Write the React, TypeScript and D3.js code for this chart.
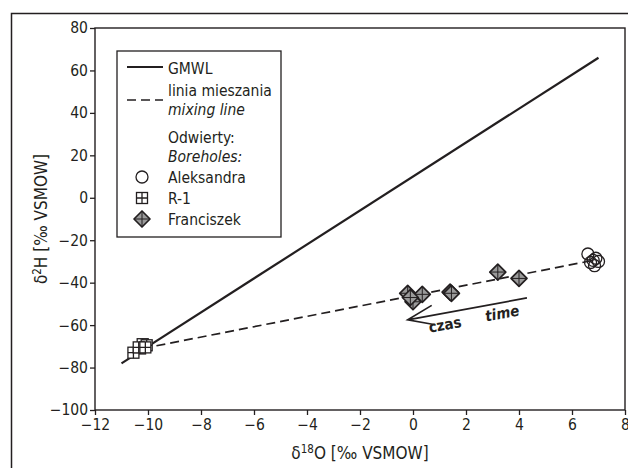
import React, { useEffect, useRef } from 'react';
import * as d3 from 'd3';

// tick values
const xTicks = [-12, -10, -8, -6, -4, -2, 0, 2, 4, 6, 8];
const yTicks = [80, 60, 40, 20, 0, -20, -40, -60, -80, -100];

// boreholes: [d18O, d2H]
const aleksandra: [number, number][] = [
  [6.6, -26.5], [6.8, -29.5], [7.0, -30], [6.85, -32], [6.7, -30.5], [6.9, -28.5],
];
const r1: [number, number][] = [
  [-10.2, -69], [-10.05, -69.5], [-10.3, -71], [-10.55, -73], [-10.35, -70.5], [-10.1, -70.5],
];
const franciszek: [number, number][] = [
  [-0.2, -45], [0.0, -49], [0.35, -45.5], [-0.1, -47], [1.4, -44.5], [1.45, -45], [3.2, -35], [4.0, -38],
];

// GMWL: d2H = 8 * d18O + 10
const gmwlRange = [-11, 7];
// mixing line end points
const mixingLine: [number, number][] = [[-10.2, -71], [6.8, -29.5]];
// time arrow (tail -> tip)
const timeArrow: [number, number][] = [[4.3, -47.2], [-0.2, -57.5]];

const FONT = '"Liberation Sans Narrow", "DejaVu Sans Condensed", "Liberation Sans", sans-serif';
const INK = '#231f20';

const App = () => {
  const svgRef = useRef<SVGSVGElement>(null);

  useEffect(() => {
    const svg = d3.select(svgRef.current);
    svg.selectAll('*').remove();

    const margin = { top: 28, right: 3, bottom: 58, left: 95 };
    const W = 628, H = 468;

    const x = d3.scaleLinear().domain([-12, 8]).range([margin.left, W - margin.right]);
    const y = d3.scaleLinear().domain([-100, 80]).range([H - margin.bottom, margin.top]);

    // outer frame
    svg.append('rect')
      .attr('x', 11.5).attr('y', 13.5).attr('width', 640).attr('height', 480)
      .attr('fill', 'none').attr('stroke', INK).attr('stroke-width', 1.5);

    // plot box
    svg.append('rect')
      .attr('x', x(-12)).attr('y', y(80))
      .attr('width', x(8) - x(-12)).attr('height', y(-100) - y(80))
      .attr('fill', 'none').attr('stroke', INK).attr('stroke-width', 1.4);

    const fmt = (d: any) => d3.format('')(d as number).replace('-', '\u2212');
    const xAxis = svg.append('g')
      .attr('transform', `translate(0,${y(-100)})`)
      .call(d3.axisBottom(x).tickValues(xTicks).tickSize(5).tickPadding(4).tickFormat(fmt));
    const yAxis = svg.append('g')
      .attr('transform', `translate(${x(-12)},0)`)
      .call(d3.axisLeft(y).tickValues(yTicks).tickSize(5).tickPadding(2).tickFormat(fmt));

    [xAxis, yAxis].forEach(g => {
      g.select('.domain').remove();
      g.selectAll('line').attr('stroke', INK).attr('stroke-width', 1.3);
      g.selectAll('text').attr('fill', INK).style('font-family', FONT).style('font-size', '15.5px');
    });

    // axis titles
    const xt = svg.append('text')
      .attr('x', (x(-12) + x(8)) / 2).attr('y', 459)
      .attr('text-anchor', 'middle').attr('fill', INK)
      .style('font-family', FONT).style('font-size', '17px');
    xt.append('tspan').text('δ');
    xt.append('tspan').attr('dy', -6).style('font-size', '11.5px').text('18');
    xt.append('tspan').attr('dy', 6).text('O [‰ VSMOW]');

    const yt = svg.append('text')
      .attr('transform', `translate(47,${(y(80) + y(-100)) / 2}) rotate(-90)`)
      .attr('text-anchor', 'middle').attr('fill', INK)
      .style('font-family', FONT).style('font-size', '17px');
    yt.append('tspan').text('δ');
    yt.append('tspan').attr('dy', -6).style('font-size', '11.5px').text('2');
    yt.append('tspan').attr('dy', 6).text('H [‰ VSMOW]');

    // GMWL
    svg.append('line')
      .attr('x1', x(gmwlRange[0])).attr('y1', y(8 * gmwlRange[0] + 10))
      .attr('x2', x(gmwlRange[1])).attr('y2', y(8 * gmwlRange[1] + 10))
      .attr('stroke', INK).attr('stroke-width', 2.2);

    // mixing line
    svg.append('path')
      .attr('d', d3.line()(mixingLine.map(d => [x(d[0]), y(d[1])]) as [number, number][]))
      .attr('stroke', INK).attr('stroke-width', 1.7).attr('stroke-dasharray', '9,5').attr('fill', 'none');

    // time arrow
    const [tail, tip] = timeArrow.map(d => [x(d[0]), y(d[1])]);
    const ang = Math.atan2(tail[1] - tip[1], tail[0] - tip[0]);
    const headLen = 28, spread = 0.36;
    svg.append('path')
      .attr('d', `M${tail[0]},${tail[1]}L${tip[0]},${tip[1]}` +
        `M${tip[0] + headLen * Math.cos(ang - spread)},${tip[1] + headLen * Math.sin(ang - spread)}L${tip[0]},${tip[1]}` +
        `L${tip[0] + headLen * Math.cos(ang + spread)},${tip[1] + headLen * Math.sin(ang + spread)}`)
      .attr('stroke', INK).attr('stroke-width', 1.7).attr('fill', 'none');
    const deg = (ang * 180) / Math.PI;
    const mid = (t: number) => [tip[0] + (tail[0] - tip[0]) * t, tip[1] + (tail[1] - tip[1]) * t];
    const c1 = mid(0.32), c2 = mid(0.8);
    svg.append('text')
      .attr('transform', `translate(${c1[0]},${c1[1] + 17}) rotate(${deg})`)
      .attr('text-anchor', 'middle').attr('fill', INK)
      .style('font-family', FONT).style('font-size', '15px').style('font-weight', 'bold')
      .text('czas');
    svg.append('text')
      .attr('transform', `translate(${c2[0]},${c2[1] + 16}) rotate(${deg})`)
      .attr('text-anchor', 'middle').attr('fill', INK)
      .style('font-family', FONT).style('font-size', '15px').style('font-weight', 'bold').style('font-style', 'italic')
      .text('time');

    // marker painters
    const drawCircle = (g: any, cx: number, cy: number) => {
      g.append('circle').attr('cx', cx).attr('cy', cy).attr('r', 6)
        .attr('fill', 'none').attr('stroke', INK).attr('stroke-width', 1.3);
    };
    const drawSquare = (g: any, cx: number, cy: number) => {
      const s = 5.5;
      g.append('rect').attr('x', cx - s).attr('y', cy - s).attr('width', 2 * s).attr('height', 2 * s)
        .attr('fill', 'white').attr('stroke', INK).attr('stroke-width', 1.3);
      g.append('path').attr('d', `M${cx - s},${cy}H${cx + s}M${cx},${cy - s}V${cy + s}`)
        .attr('stroke', INK).attr('stroke-width', 1.3);
    };
    const drawDiamond = (g: any, cx: number, cy: number) => {
      const s = 8;
      g.append('path').attr('d', `M${cx},${cy - s}L${cx + s},${cy}L${cx},${cy + s}L${cx - s},${cy}Z`)
        .attr('fill', '#9a9a9a').attr('stroke', INK).attr('stroke-width', 1.7).attr('stroke-linejoin', 'round');
      g.append('path').attr('d', `M${cx - s},${cy}H${cx + s}M${cx},${cy - s}V${cy + s}`)
        .attr('stroke', INK).attr('stroke-width', 1);
    };

    const pts = svg.append('g');
    franciszek.forEach(d => drawDiamond(pts, x(d[0]), y(d[1])));
    r1.forEach(d => drawSquare(pts, x(d[0]), y(d[1])));
    aleksandra.forEach(d => drawCircle(pts, x(d[0]), y(d[1])));

    // legend
    const lg = svg.append('g');
    lg.append('rect').attr('x', 117).attr('y', 51).attr('width', 164).attr('height', 186)
      .attr('fill', 'white').attr('stroke', INK).attr('stroke-width', 1.3);
    lg.append('line').attr('x1', 127).attr('x2', 163).attr('y1', 67).attr('y2', 67)
      .attr('stroke', INK).attr('stroke-width', 2.2);
    lg.append('line').attr('x1', 127).attr('x2', 163).attr('y1', 100).attr('y2', 100)
      .attr('stroke', INK).attr('stroke-width', 1.7).attr('stroke-dasharray', '9,5');
    const legendText: [string, number, boolean][] = [
      ['GMWL', 68, false],
      ['linia mieszania', 90, false],
      ['mixing line', 109, true],
      ['Odwierty:', 137, false],
      ['Boreholes:', 156, true],
      ['Aleksandra', 177, false],
      ['R-1', 198, false],
      ['Franciszek', 219, false],
    ];
    legendText.forEach(([t, yy, it]) => {
      lg.append('text').attr('x', 168).attr('y', yy).attr('dy', '0.36em')
        .attr('fill', INK).style('font-family', FONT).style('font-size', '15.5px')
        .style('font-style', it ? 'italic' : 'normal').text(t);
    });
    drawCircle(lg, 142, 177);
    drawSquare(lg, 142, 198);
    drawDiamond(lg, 142, 219);
  }, []);

  return (
    <svg ref={svgRef} width={628} height={468}
      style={{ position: 'absolute', left: 0, top: 0, background: 'white' }} />
  );
};

export default App;
